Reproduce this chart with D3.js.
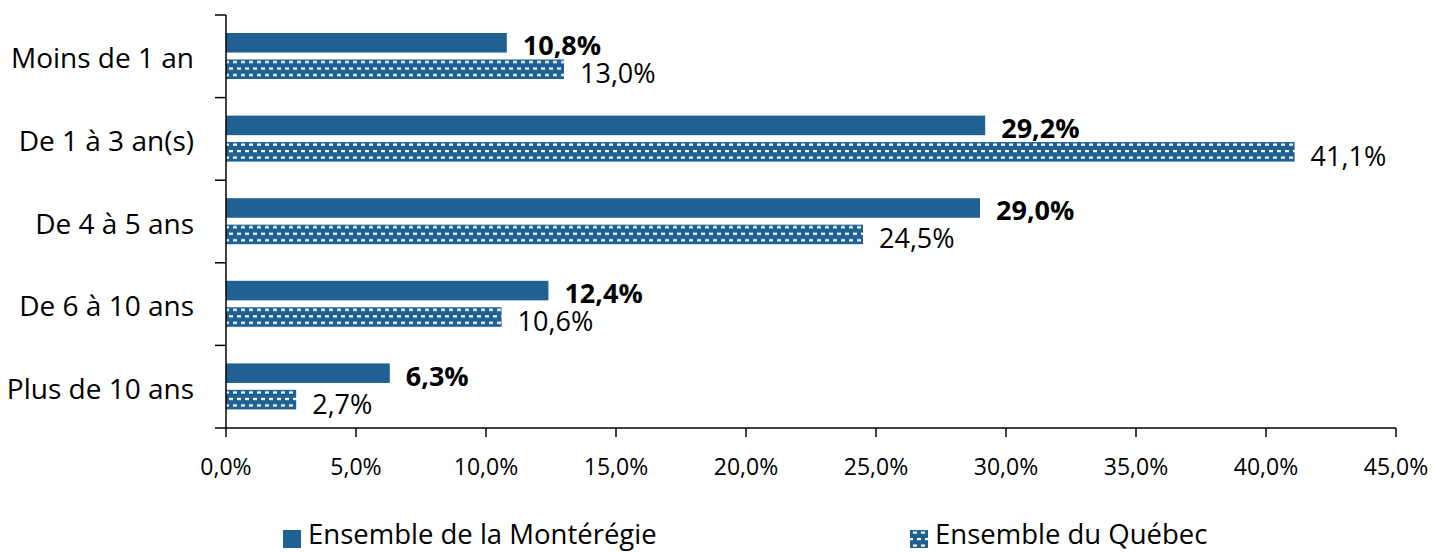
<!DOCTYPE html>
<html>
<head>
<meta charset="utf-8">
<script src="https://cdn.jsdelivr.net/npm/d3@7"></script>
<style>
  html, body { margin: 0; padding: 0; background: #fff; }
  svg { display: block; }
  text { font-family: "Open Sans", "Liberation Sans", sans-serif; fill: #000; }
</style>
</head>
<body>
<svg id="chart" width="1434" height="552"></svg>
<script>
const categories = ["Moins de 1 an", "De 1 à 3 an(s)", "De 4 à 5 ans", "De 6 à 10 ans", "Plus de 10 ans"];
const seriesNames = ["Ensemble de la Montérégie", "Ensemble du Québec"];
const monteregie = [10.8, 29.2, 29.0, 12.4, 6.3];
const quebec = [13.0, 41.1, 24.5, 10.6, 2.7];
const xTicks = [0, 5, 10, 15, 20, 25, 30, 35, 40, 45];

const blue = "#1F6193";
const svg = d3.select("#chart");

const x = d3.scaleLinear().domain([0, 45]).range([226, 1396]);
const y = d3.scaleBand().domain(categories).range([15, 428]).paddingInner(0).paddingOuter(0);
const inner = d3.scaleBand().domain(seriesNames).range([18, 64]).paddingInner(0.26);

const fmt = v => d3.format(".1f")(v).replace(".", ",") + "%";

// patterns for Québec, one anchored on each bar top
const defs = svg.append("defs");
function makePattern(id, y0) {
  const pat = defs.append("pattern")
    .attr("id", id).attr("patternUnits", "userSpaceOnUse")
    .attr("x", 0).attr("y", y0)
    .attr("width", 8).attr("height", 13);
  pat.append("rect").attr("width", 8).attr("height", 13).attr("fill", blue);
  pat.append("rect").attr("x", 1).attr("y", 1.5).attr("width", 4).attr("height", 2.2).attr("fill", "#fff");
  pat.append("rect").attr("x", 5).attr("y", 8).attr("width", 4).attr("height", 2.2).attr("fill", "#fff");
  pat.append("rect").attr("x", -3).attr("y", 8).attr("width", 4).attr("height", 2.2).attr("fill", "#fff");
}
categories.forEach((c, i) => makePattern("dash" + i, y(c) + inner(seriesNames[1])));
makePattern("dashLegend", 530);

const series = [
  {name: seriesNames[0], values: monteregie, fill: () => blue, weight: "bold", dy: 0},
  {name: seriesNames[1], values: quebec, fill: i => "url(#dash" + i + ")", weight: "normal", dy: 1.5}
];

series.forEach((s) => {
  const g = svg.append("g");
  g.selectAll("rect").data(categories).join("rect")
    .attr("x", x(0))
    .attr("y", c => y(c) + inner(s.name))
    .attr("width", (c, i) => x(s.values[i]) - x(0))
    .attr("height", inner.bandwidth())
    .attr("fill", (c, i) => s.fill(i));
  g.selectAll("text").data(categories).join("text")
    .attr("x", (c, i) => x(s.values[i]) + 16)
    .attr("y", c => y(c) + inner(s.name) + inner.bandwidth() / 2 + 2 + s.dy)
    .attr("dominant-baseline", "central")
    .attr("font-size", 27)
    .attr("font-weight", s.weight)
    .text((c, i) => fmt(s.values[i]));
});

// y axis
const yAxis = svg.append("g");
yAxis.append("line").attr("x1", 226).attr("x2", 226).attr("y1", 15).attr("y2", 428)
  .attr("stroke", "#000").attr("stroke-width", 1.5);
const yTickPos = categories.map(c => y(c)).concat([y.range()[1]]);
yAxis.selectAll("line.t").data(yTickPos).join("line").attr("class", "t")
  .attr("x1", 215).attr("x2", 226).attr("y1", d => d).attr("y2", d => d)
  .attr("stroke", "#000").attr("stroke-width", 1.5);
yAxis.selectAll("text").data(categories).join("text")
  .attr("x", 194).attr("y", c => y(c) + y.bandwidth() / 2 + 1)
  .attr("text-anchor", "end").attr("dominant-baseline", "central")
  .attr("font-size", 28).text(c => c);

// x axis
const xAxis = svg.append("g");
xAxis.append("line").attr("x1", x(0)).attr("x2", x(45)).attr("y1", 428).attr("y2", 428)
  .attr("stroke", "#000").attr("stroke-width", 1.5);
xAxis.selectAll("line.t").data(xTicks).join("line").attr("class", "t")
  .attr("x1", d => x(d)).attr("x2", d => x(d)).attr("y1", 428).attr("y2", 437)
  .attr("stroke", "#000").attr("stroke-width", 1.5);
xAxis.selectAll("text").data(xTicks).join("text")
  .attr("x", d => x(d)).attr("y", 466)
  .attr("text-anchor", "middle").attr("dominant-baseline", "central")
  .attr("font-size", 23).text(d => fmt(d));

// legend
const legendX = [283, 910];
const legendFill = [blue, "url(#dashLegend)"];
const lg = svg.append("g");
seriesNames.forEach((n, i) => {
  lg.append("rect").attr("x", legendX[i]).attr("y", 530).attr("width", 18).attr("height", 18).attr("fill", legendFill[i]);
  lg.append("text").attr("x", legendX[i] + 25).attr("y", 544)
    .attr("font-size", 27.5).text(n);
});
</script>
</body>
</html>
